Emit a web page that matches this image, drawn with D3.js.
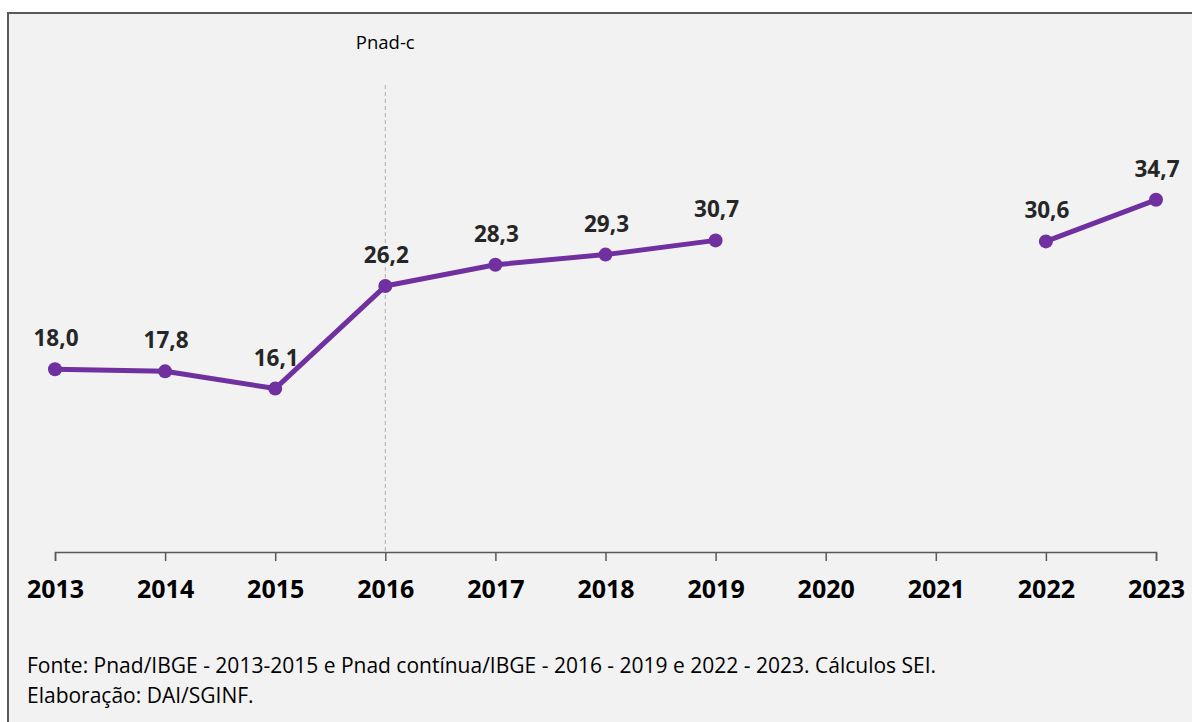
<!DOCTYPE html>
<html>
<head>
<meta charset="utf-8">
<script src="https://cdn.jsdelivr.net/npm/d3@7"></script>
<style>
  html, body { margin: 0; padding: 0; background: #ffffff; }
  svg { display: block; }
  text { font-family: "Open Sans", "Noto Sans", sans-serif; }
</style>
</head>
<body>
<svg id="chart" width="1192" height="722"></svg>
<script>
// Series: years and rate (%) — no survey values for 2020 and 2021
const years = ["2013", "2014", "2015", "2016", "2017", "2018", "2019", "2020", "2021", "2022", "2023"];
const values = [18.0, 17.8, 16.1, 26.2, 28.3, 29.3, 30.7, null, null, 30.6, 34.7];
const markerYear = "2016";
const markerLabel = "Pnad-c";
const sourceLines = [
  "Fonte: Pnad/IBGE - 2013-2015 e Pnad contínua/IBGE - 2016 - 2019 e 2022 - 2023. Cálculos SEI.",
  "Elaboração: DAI/SGINF."
];

const data = years.map((y, i) => ({ year: y, value: values[i] }));
const fmt = v => d3.format(".1f")(v).replace(".", ",");

const svg = d3.select("#chart");
const W = 1192, H = 722;
const purple = "#7030a0";

// Panel background and frame
svg.append("rect")
  .attr("x", 8).attr("y", 13)
  .attr("width", W).attr("height", H)
  .attr("fill", "#f2f2f2")
  .attr("stroke", "#595959")
  .attr("stroke-width", 2);

const x = d3.scalePoint().domain(years).range([55, 1156]).padding(0);
const y = d3.scaleLinear().domain([0, 40]).range([552, 146]);

// Break line between survey series
svg.append("line")
  .attr("x1", x(markerYear)).attr("x2", x(markerYear))
  .attr("y1", 85).attr("y2", y(0))
  .attr("stroke", "#b0b0b0")
  .attr("stroke-width", 1)
  .attr("stroke-dasharray", "4,3");

svg.append("text")
  .attr("x", x(markerYear)).attr("y", 49)
  .attr("text-anchor", "middle")
  .attr("font-size", 18.5)
  .attr("fill", "#000")
  .text(markerLabel);

// X axis
const axis = svg.append("g")
  .attr("transform", `translate(0,${y(0)})`)
  .call(d3.axisBottom(x).tickSize(9).tickSizeOuter(9).tickPadding(19));
axis.select(".domain").attr("stroke", "#595959").attr("stroke-width", 1.5);
axis.selectAll(".tick line").attr("stroke", "#595959").attr("stroke-width", 1.5);
axis.selectAll(".tick text")
  .attr("font-size", 25)
  .attr("font-weight", 700)
  .attr("fill", "#000")
  .style("font-family", '"Open Sans", sans-serif');

// Line with gaps for missing years
const line = d3.line()
  .defined(d => d.value !== null)
  .x(d => x(d.year))
  .y(d => y(d.value));

svg.append("path")
  .datum(data)
  .attr("fill", "none")
  .attr("stroke", purple)
  .attr("stroke-width", 5)
  .attr("stroke-linejoin", "round")
  .attr("d", line);

const pts = data.filter(d => d.value !== null);

svg.selectAll("circle.pt")
  .data(pts)
  .enter().append("circle")
  .attr("class", "pt")
  .attr("cx", d => x(d.year))
  .attr("cy", d => y(d.value))
  .attr("r", 7)
  .attr("fill", purple);

svg.selectAll("text.val")
  .data(pts)
  .enter().append("text")
  .attr("class", "val")
  .attr("x", d => x(d.year) + 1)
  .attr("y", d => y(d.value) - 23)
  .attr("text-anchor", "middle")
  .attr("font-size", 22.5)
  .attr("font-weight", 700)
  .attr("fill", "#262626")
  .text(d => fmt(d.value));

// Source note
svg.selectAll("text.src")
  .data(sourceLines)
  .enter().append("text")
  .attr("class", "src")
  .attr("x", 27)
  .attr("y", (d, i) => 673 + i * 30)
  .attr("font-size", 21)
  .attr("fill", "#000")
  .text(d => d);
</script>
</body>
</html>
